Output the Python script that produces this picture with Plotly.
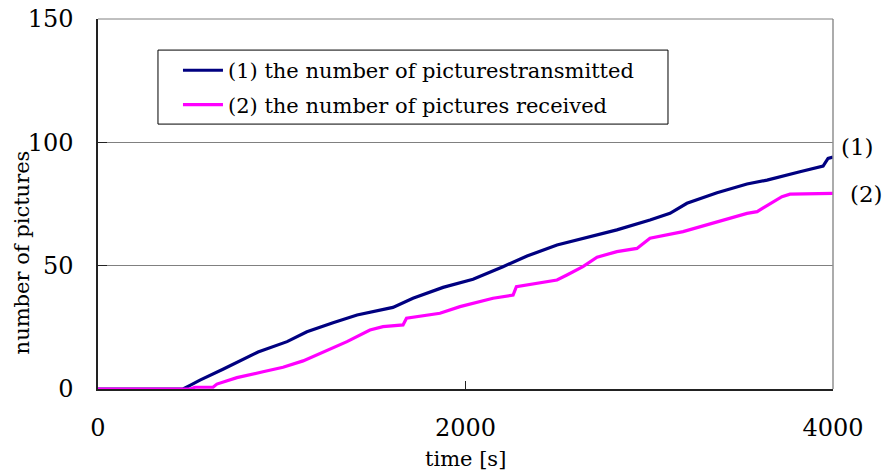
import plotly.graph_objects as go

# (1) pictures transmitted
t_tx = [0, 463, 501, 555, 680, 871, 1029, 1137, 1279, 1410, 1605, 1714, 1878, 2041,
        2204, 2335, 2498, 2639, 2824, 3004, 3113, 3205, 3369, 3532, 3641, 3820, 3946, 3973, 4000]
n_tx = [0, 0, 1.5, 3.6, 8, 15, 19.2, 23.2, 26.9, 30, 33.1, 36.8, 41.2, 44.5,
        49.6, 53.9, 58.4, 61.1, 64.5, 68.5, 71.2, 75.3, 79.6, 83.1, 84.7, 88.1, 90.4, 93.5, 94]

# (2) pictures received
t_rx = [0, 501, 528, 626, 647, 756, 898, 1007, 1116, 1246, 1355, 1480, 1551, 1660, 1679,
        1861, 1970, 2150, 2259, 2277, 2367, 2498, 2552, 2639, 2716, 2824, 2933, 3004,
        3184, 3369, 3456, 3532, 3587, 3641, 3722, 3766, 4000]
n_rx = [0, 0, 0.7, 0.7, 2, 4.6, 7, 8.8, 11.4, 15.8, 19.2, 23.9, 25.3, 26, 28.7,
        30.7, 33.4, 36.8, 38.1, 41.5, 42.6, 44.2, 46.2, 49.6, 53.4, 55.7, 57, 61.1,
        63.8, 67.8, 69.6, 71.2, 71.9, 74.2, 78, 79, 79.3]

x_ticks = [0, 2000, 4000]
y_ticks = [0, 50, 100, 150]
name_tx = "(1) the number of picturestransmitted"
name_rx = "(2) the number of pictures received"

FONT = "DejaVu Serif"

fig = go.Figure()
fig.add_trace(go.Scatter(x=t_tx, y=n_tx, mode="lines", name=name_tx, legendgroup="a",
                         line=dict(color="#000080", width=3.2)))
fig.add_trace(go.Scatter(x=t_rx, y=n_rx, mode="lines", name=name_rx, legendgroup="b",
                         line=dict(color="#FF00FF", width=3.2)))

fig.update_layout(
    width=889, height=475,
    margin=dict(l=98, r=56, t=19, b=86, autoexpand=False),
    paper_bgcolor="white", plot_bgcolor="white",
    font=dict(family=FONT, color="black", size=20),
    showlegend=True,
    legend=dict(x=0.0816, y=0.916, xanchor="left", yanchor="top",
                borderwidth=0, bgcolor="rgba(0,0,0,0)",
                font=dict(family=FONT, size=21), itemwidth=40,
                indentation=20, tracegroupgap=4),
    xaxis=dict(range=[0, 4000], tickvals=x_ticks, showgrid=False, zeroline=False,
               showline=True, linecolor="#222", linewidth=1.5,
               ticks="inside", ticklen=8, tickcolor="#222", automargin=False,
               ticklabelstandoff=16, tickfont=dict(size=24)),
    yaxis=dict(range=[0, 150], tickvals=y_ticks, showgrid=True, gridcolor="#808080",
               gridwidth=1, zeroline=False,
               showline=True, linecolor="#222", linewidth=1.5,
               ticks="inside", ticklen=9, tickcolor="#222", automargin=False,
               ticklabelstandoff=18, tickfont=dict(size=24),
               ticklabeloverflow="allow"),
    shapes=[
        dict(type="line", xref="paper", yref="paper", x0=1, x1=1, y0=0, y1=1,
             line=dict(color="#909090", width=1.5)),
        dict(type="line", xref="paper", yref="paper", x0=0, x1=1, y0=1, y1=1,
             line=dict(color="#808080", width=1)),
        dict(type="rect", xref="paper", yref="paper", x0=0.0816, x1=0.7755,
             y0=0.716, y1=0.916, layer="above", fillcolor="white",
             line=dict(color="black", width=1)),
    ],
    annotations=[
        dict(text="time [s]", xref="paper", yref="paper", x=0.5, y=-0.19,
             xanchor="center", yanchor="middle", showarrow=False, font=dict(size=21)),
        dict(text="number of pictures", xref="paper", yref="paper", x=-0.103, y=0.37,
             xanchor="center", yanchor="middle", textangle=-90, showarrow=False,
             font=dict(size=21)),
        dict(text="(1)", xref="paper", yref="paper", x=1.034, y=0.655,
             xanchor="center", yanchor="middle", showarrow=False, font=dict(size=23)),
        dict(text="(2)", xref="paper", yref="paper", x=1.045, y=0.528,
             xanchor="center", yanchor="middle", showarrow=False, font=dict(size=23)),
    ],
)

fig.write_html("out.html", config={"displayModeBar": False},
               post_script="document.body.style.margin='0';document.body.style.overflow='hidden';")
